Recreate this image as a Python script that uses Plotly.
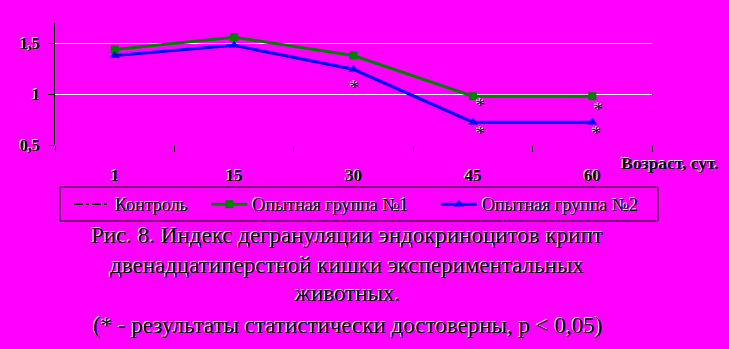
import plotly.graph_objects as go

categories = ["1", "15", "30", "45", "60"]
control = [None, None, None, None, None]
group1 = [1.44, 1.56, 1.38, 0.98, 0.98]
group2 = [1.38, 1.48, 1.245, 0.725, 0.725]
y_ticks = [0.5, 1.0, 1.5]
y_tick_labels = ["0,5", "1", "1,5"]
series_names = ["Контроль", "Опытная группа №1", "Опытная группа №2"]
# significance asterisks: (category, y-value, x shift px)
stars = [("30", 1.10, 1), ("45", 0.92, 8), ("45", 0.65, 8), ("60", 0.88, 6), ("60", 0.65, 4)]
caption = [
    "Рис. 8. Индекс дегрануляции эндокриноцитов крипт",
    "двенадцатиперстной кишки экспериментальных",
    "животных.",
    "(* - результаты статистически достоверны, р < 0,05)",
]

BG = "#FF00FF"
SH = "-1px -1px 0px white"
SERIF = "Liberation Serif"
NB = "\u00a0"

fig = go.Figure()
fig.add_trace(go.Scatter(x=categories, y=control, name=series_names[0] + NB * 3, mode="lines",
                         line=dict(color="black", width=1.5, dash="dashdot")))
fig.add_trace(go.Scatter(x=categories, y=group1, name=series_names[1] + NB * 5, mode="lines+markers",
                         line=dict(color="#008000", width=3),
                         marker=dict(symbol="square", size=8, color="#008000")))
fig.add_trace(go.Scatter(x=categories, y=group2, name=series_names[2], mode="lines+markers",
                         line=dict(color="#0000FF", width=3),
                         marker=dict(symbol="triangle-up", size=9, color="#0000FF")))

for cat, yv, dx in stars:
    fig.add_annotation(x=categories.index(cat), y=yv, xref="x", yref="y", text="*", showarrow=False,
                       xshift=dx, yshift=-4,
                       font=dict(family=SERIF, size=18, color="black", shadow=SH))

def px(xpix):
    return (xpix - 55) / 597.0

def py(ypix):
    return (145 - ypix) / 122.0

for txt, ypix in zip(caption, [235, 265, 293, 325]):
    fig.add_annotation(x=px(347), y=py(ypix), xref="paper", yref="paper",
                       text=txt, showarrow=False, xanchor="center", yanchor="middle",
                       font=dict(family=SERIF, size=23, color="black", shadow=SH))

fig.add_annotation(x=px(619), y=py(163), xref="paper", yref="paper",
                   text="<b>Возраст, сут.</b>", showarrow=False, xanchor="left", yanchor="middle",
                   font=dict(family=SERIF, size=17.5, color="black", shadow=SH))

# legend frame
fig.add_shape(type="rect", xref="paper", yref="paper", x0=px(60), x1=px(658), y0=py(221), y1=py(187),
              line=dict(color="black", width=1), fillcolor="rgba(0,0,0,0)", layer="above")

fig.update_layout(
    width=729, height=349,
    margin=dict(l=55, r=77, t=23, b=204),
    paper_bgcolor=BG, plot_bgcolor=BG,
    showlegend=True,
    legend=dict(orientation="h", x=px(69), y=py(186), xanchor="left", yanchor="top",
                bgcolor="rgba(0,0,0,0)", borderwidth=0,
                font=dict(family=SERIF, size=18, color="black", shadow=SH),
                itemwidth=36),
    xaxis=dict(type="category", showgrid=False, zeroline=False, showline=False,
               tickson="boundaries", ticks="outside", ticklen=6, tickcolor="black",
               ticklabelstandoff=18,
               tickfont=dict(family=SERIF, size=17, color="black", weight="bold", shadow=SH),
               range=[-0.5, 4.5]),
    yaxis=dict(range=[0.5, 1.7], tickvals=y_ticks, ticktext=y_tick_labels,
               showgrid=True, gridcolor="white", gridwidth=1, zeroline=False,
               showline=True, linecolor="black", linewidth=1,
               ticks="outside", ticklen=6, tickcolor="black", ticklabelstandoff=5,
               tickfont=dict(family=SERIF, size=16, color="black", weight="bold", shadow=SH)),
)

fig.write_html("out.html")
